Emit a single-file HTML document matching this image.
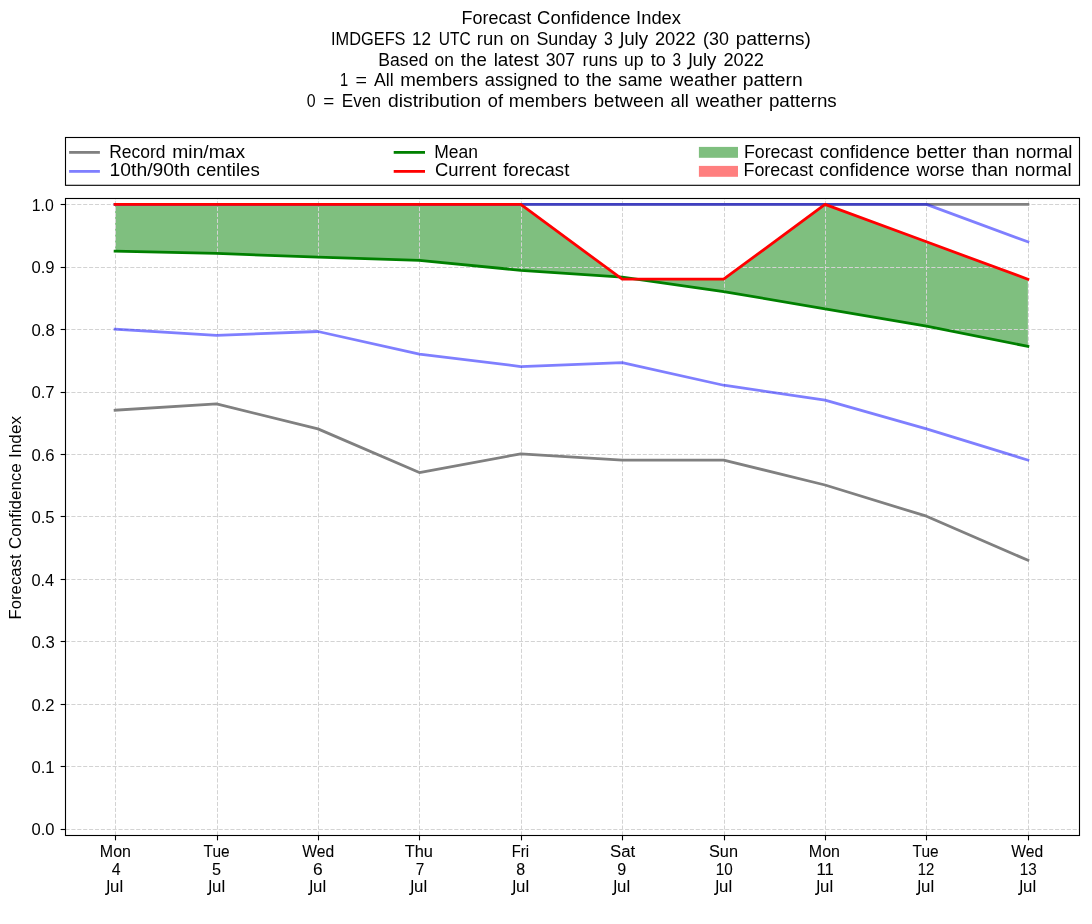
<!DOCTYPE html>
<html lang="en"><head><meta charset="utf-8"><title>Forecast Confidence Index</title>
<style>html,body{margin:0;padding:0;background:#fff;}body{width:1092px;height:924px;overflow:hidden;font-family:"Liberation Sans", sans-serif;}svg{display:block;}text{font-family:"Liberation Sans", sans-serif;fill:#000;}</style></head><body>
<svg width="1092" height="924" viewBox="0 0 1092 924">
<rect x="0" y="0" width="1092" height="924" fill="#ffffff"/>
<g id="fills">
<polygon points="115.10,204.40 216.52,204.40 317.94,204.40 419.36,204.40 520.78,204.40 619.13,276.97 520.78,270.31 419.36,260.31 317.94,257.19 216.52,253.44 115.10,251.25" fill="#008000" fill-opacity="0.5"/>
<polygon points="636.70,279.23 723.62,279.23 825.04,204.40 926.46,241.82 1027.88,279.23 1027.88,346.39 926.46,326.22 825.04,308.91 723.62,291.55" fill="#008000" fill-opacity="0.5"/>
<polygon points="619.13,276.97 622.20,277.18 636.70,279.23 622.20,279.23" fill="#ff0000" fill-opacity="0.5"/>
</g>
<g id="grid" stroke="#d3d3d3" stroke-width="1" stroke-dasharray="4.11 1.78" fill="none">
<line x1="115.5" y1="835.5" x2="115.5" y2="198.5"/>
<line x1="217.5" y1="835.5" x2="217.5" y2="198.5"/>
<line x1="318.5" y1="835.5" x2="318.5" y2="198.5"/>
<line x1="419.5" y1="835.5" x2="419.5" y2="198.5"/>
<line x1="521.5" y1="835.5" x2="521.5" y2="198.5"/>
<line x1="622.5" y1="835.5" x2="622.5" y2="198.5"/>
<line x1="724.5" y1="835.5" x2="724.5" y2="198.5"/>
<line x1="825.5" y1="835.5" x2="825.5" y2="198.5"/>
<line x1="926.5" y1="835.5" x2="926.5" y2="198.5"/>
<line x1="1028.5" y1="835.5" x2="1028.5" y2="198.5"/>
<line x1="65.5" y1="829.5" x2="1079.5" y2="829.5"/>
<line x1="65.5" y1="766.5" x2="1079.5" y2="766.5"/>
<line x1="65.5" y1="704.5" x2="1079.5" y2="704.5"/>
<line x1="65.5" y1="641.5" x2="1079.5" y2="641.5"/>
<line x1="65.5" y1="579.5" x2="1079.5" y2="579.5"/>
<line x1="65.5" y1="516.5" x2="1079.5" y2="516.5"/>
<line x1="65.5" y1="454.5" x2="1079.5" y2="454.5"/>
<line x1="65.5" y1="392.5" x2="1079.5" y2="392.5"/>
<line x1="65.5" y1="329.5" x2="1079.5" y2="329.5"/>
<line x1="65.5" y1="267.5" x2="1079.5" y2="267.5"/>
<line x1="65.5" y1="204.5" x2="1079.5" y2="204.5"/>
</g>
<g id="series">
<polyline points="115.10,204.40 216.52,204.40 317.94,204.40 419.36,204.40 520.78,204.40 622.20,204.40 723.62,204.40 825.04,204.40 926.46,204.40 1027.88,204.40" fill="none" stroke="#808080" stroke-opacity="1.0" stroke-width="2.78" stroke-linecap="square" stroke-linejoin="round" />
<polyline points="115.10,410.19 216.52,403.95 317.94,428.90 419.36,472.55 520.78,453.84 622.20,460.08 723.62,460.08 825.04,485.02 926.46,516.20 1027.88,560.29" fill="none" stroke="#808080" stroke-opacity="1.0" stroke-width="2.78" stroke-linecap="square" stroke-linejoin="round" />
<polyline points="115.10,204.40 216.52,204.40 317.94,204.40 419.36,204.40 520.78,204.40 622.20,204.40 723.62,204.40 825.04,204.40 926.46,204.40 1027.88,241.82" fill="none" stroke="#0000ff" stroke-opacity="0.5" stroke-width="2.78" stroke-linecap="square" stroke-linejoin="round" />
<polyline points="115.10,329.12 216.52,335.36 317.94,331.49 419.36,354.06 520.78,366.54 622.20,362.73 723.62,385.24 825.04,400.21 926.46,428.90 1027.88,460.08" fill="none" stroke="#0000ff" stroke-opacity="0.5" stroke-width="2.78" stroke-linecap="square" stroke-linejoin="round" />
<polyline points="115.10,251.25 216.52,253.44 317.94,257.19 419.36,260.31 520.78,270.31 622.20,277.18 723.62,291.55 825.04,308.91 926.46,326.22 1027.88,346.39" fill="none" stroke="#008000" stroke-opacity="1.0" stroke-width="2.78" stroke-linecap="square" stroke-linejoin="round" />
<polyline points="115.10,204.40 216.52,204.40 317.94,204.40 419.36,204.40 520.78,204.40 622.20,279.23 723.62,279.23 825.04,204.40 926.46,241.82 1027.88,279.23" fill="none" stroke="#ff0000" stroke-opacity="1.0" stroke-width="2.78" stroke-linecap="square" stroke-linejoin="round" />
</g>
<g id="axes" stroke="#000" stroke-width="1.11" fill="none">
<rect x="65.5" y="198.5" width="1014.0" height="637.0" stroke-linejoin="miter"/>
<line x1="115.5" y1="835.5" x2="115.5" y2="840.36"/>
<line x1="217.5" y1="835.5" x2="217.5" y2="840.36"/>
<line x1="318.5" y1="835.5" x2="318.5" y2="840.36"/>
<line x1="419.5" y1="835.5" x2="419.5" y2="840.36"/>
<line x1="521.5" y1="835.5" x2="521.5" y2="840.36"/>
<line x1="622.5" y1="835.5" x2="622.5" y2="840.36"/>
<line x1="724.5" y1="835.5" x2="724.5" y2="840.36"/>
<line x1="825.5" y1="835.5" x2="825.5" y2="840.36"/>
<line x1="926.5" y1="835.5" x2="926.5" y2="840.36"/>
<line x1="1028.5" y1="835.5" x2="1028.5" y2="840.36"/>
<line x1="65.5" y1="829.5" x2="60.64" y2="829.5"/>
<line x1="65.5" y1="766.5" x2="60.64" y2="766.5"/>
<line x1="65.5" y1="704.5" x2="60.64" y2="704.5"/>
<line x1="65.5" y1="641.5" x2="60.64" y2="641.5"/>
<line x1="65.5" y1="579.5" x2="60.64" y2="579.5"/>
<line x1="65.5" y1="516.5" x2="60.64" y2="516.5"/>
<line x1="65.5" y1="454.5" x2="60.64" y2="454.5"/>
<line x1="65.5" y1="392.5" x2="60.64" y2="392.5"/>
<line x1="65.5" y1="329.5" x2="60.64" y2="329.5"/>
<line x1="65.5" y1="267.5" x2="60.64" y2="267.5"/>
<line x1="65.5" y1="204.5" x2="60.64" y2="204.5"/>
</g>
<g id="legend">
<rect x="65.5" y="137.5" width="1014" height="47.8" fill="#fff" stroke="#000" stroke-width="1.11"/>
<line x1="69.1" y1="152.4" x2="99.9" y2="152.4" stroke="#808080" stroke-opacity="1.0" stroke-width="2.78"/>
<line x1="69.1" y1="171.4" x2="99.9" y2="171.4" stroke="#0000ff" stroke-opacity="0.5" stroke-width="2.78"/>
<line x1="393.7" y1="152.4" x2="425.0" y2="152.4" stroke="#008000" stroke-opacity="1.0" stroke-width="2.78"/>
<line x1="393.7" y1="171.4" x2="425.0" y2="171.4" stroke="#ff0000" stroke-opacity="1.0" stroke-width="2.78"/>
<rect x="698.9" y="146.9" width="39.1" height="10.9" fill="#008000" fill-opacity="0.5"/>
<rect x="698.9" y="165.9" width="39.1" height="10.9" fill="#ff0000" fill-opacity="0.5"/>
</g>
<g id="labels" style="opacity:0.999">
<text id="t0_0" x="461.50" y="24.00" font-size="17.50" textLength="69.77" lengthAdjust="spacingAndGlyphs">Forecast</text>
<text id="t0_1" x="537.10" y="24.00" font-size="17.50" textLength="93.31" lengthAdjust="spacingAndGlyphs">Confidence</text>
<text id="t0_2" x="636.13" y="24.00" font-size="17.50" textLength="44.86" lengthAdjust="spacingAndGlyphs">Index</text>
<text id="t1_0" x="331.06" y="45.00" font-size="17.50" textLength="74.49" lengthAdjust="spacingAndGlyphs">IMDGEFS</text>
<text id="t1_1" x="412.05" y="45.00" font-size="17.50" textLength="19.07" lengthAdjust="spacingAndGlyphs">12</text>
<text id="t1_2" x="438.79" y="45.00" font-size="17.50" textLength="31.89" lengthAdjust="spacingAndGlyphs">UTC</text>
<text id="t1_3" x="476.80" y="45.00" font-size="17.50" textLength="26.65" lengthAdjust="spacingAndGlyphs">run</text>
<text id="t1_4" x="510.00" y="45.00" font-size="17.50" textLength="19.49" lengthAdjust="spacingAndGlyphs">on</text>
<text id="t1_5" x="536.41" y="45.00" font-size="17.50" textLength="60.66" lengthAdjust="spacingAndGlyphs">Sunday</text>
<text id="t1_6" x="603.91" y="45.00" font-size="17.50" textLength="8.80" lengthAdjust="spacingAndGlyphs">3</text>
<path id="t1_7" d="M622.09 31.92 L622.09 44.67 C622.09 46.67 620.84 47.52 618.59 47.52" fill="none" stroke="#000" stroke-width="1.63"/>
<text id="t1_8" x="624.17" y="45.00" font-size="17.50" textLength="24.00" lengthAdjust="spacingAndGlyphs">uly</text>
<text id="t1_9" x="654.92" y="45.00" font-size="17.50" textLength="40.81" lengthAdjust="spacingAndGlyphs">2022</text>
<text id="t1_10" x="703.04" y="45.00" font-size="17.50" textLength="25.95" lengthAdjust="spacingAndGlyphs">(30</text>
<text id="t1_11" x="735.87" y="45.00" font-size="17.50" textLength="75.01" lengthAdjust="spacingAndGlyphs">patterns)</text>
<text id="t2_0" x="378.37" y="66.00" font-size="17.50" textLength="49.83" lengthAdjust="spacingAndGlyphs">Based</text>
<text id="t2_1" x="434.60" y="66.00" font-size="17.50" textLength="19.40" lengthAdjust="spacingAndGlyphs">on</text>
<text id="t2_2" x="460.89" y="66.00" font-size="17.50" textLength="25.89" lengthAdjust="spacingAndGlyphs">the</text>
<text id="t2_3" x="493.67" y="66.00" font-size="17.50" textLength="45.10" lengthAdjust="spacingAndGlyphs">latest</text>
<text id="t2_4" x="545.65" y="66.00" font-size="17.50" textLength="29.34" lengthAdjust="spacingAndGlyphs">307</text>
<text id="t2_5" x="582.40" y="66.00" font-size="17.50" textLength="35.05" lengthAdjust="spacingAndGlyphs">runs</text>
<text id="t2_6" x="624.03" y="66.00" font-size="17.50" textLength="19.48" lengthAdjust="spacingAndGlyphs">up</text>
<text id="t2_7" x="650.69" y="66.00" font-size="17.50" textLength="15.00" lengthAdjust="spacingAndGlyphs">to</text>
<text id="t2_8" x="672.61" y="66.00" font-size="17.50" textLength="8.55" lengthAdjust="spacingAndGlyphs">3</text>
<path id="t2_9" d="M690.57 52.92 L690.57 65.67 C690.57 67.67 689.32 68.52 687.07 68.52" fill="none" stroke="#000" stroke-width="1.63"/>
<text id="t2_10" x="692.55" y="66.00" font-size="17.50" textLength="23.93" lengthAdjust="spacingAndGlyphs">uly</text>
<text id="t2_11" x="723.45" y="66.00" font-size="17.50" textLength="40.53" lengthAdjust="spacingAndGlyphs">2022</text>
<text id="t3_0" x="339.92" y="86.00" font-size="17.50" textLength="8.13" lengthAdjust="spacingAndGlyphs">1</text>
<text id="t3_1" x="355.59" y="86.00" font-size="17.50" textLength="11.49" lengthAdjust="spacingAndGlyphs">=</text>
<text id="t3_2" x="373.94" y="86.00" font-size="17.50" textLength="19.73" lengthAdjust="spacingAndGlyphs">All</text>
<text id="t3_3" x="400.18" y="86.00" font-size="17.50" textLength="78.05" lengthAdjust="spacingAndGlyphs">members</text>
<text id="t3_4" x="484.87" y="86.00" font-size="17.50" textLength="72.80" lengthAdjust="spacingAndGlyphs">assigned</text>
<text id="t3_5" x="564.00" y="86.00" font-size="17.50" textLength="15.55" lengthAdjust="spacingAndGlyphs">to</text>
<text id="t3_6" x="586.03" y="86.00" font-size="17.50" textLength="25.87" lengthAdjust="spacingAndGlyphs">the</text>
<text id="t3_7" x="618.39" y="86.00" font-size="17.50" textLength="44.18" lengthAdjust="spacingAndGlyphs">same</text>
<text id="t3_8" x="669.97" y="86.00" font-size="17.50" textLength="66.74" lengthAdjust="spacingAndGlyphs">weather</text>
<text id="t3_9" x="742.72" y="86.00" font-size="17.50" textLength="60.02" lengthAdjust="spacingAndGlyphs">pattern</text>
<text id="t4_0" x="306.79" y="107.00" font-size="17.50" textLength="8.85" lengthAdjust="spacingAndGlyphs">0</text>
<text id="t4_1" x="323.27" y="107.00" font-size="17.50" textLength="11.00" lengthAdjust="spacingAndGlyphs">=</text>
<text id="t4_2" x="341.86" y="107.00" font-size="17.50" textLength="39.19" lengthAdjust="spacingAndGlyphs">Even</text>
<text id="t4_3" x="388.13" y="107.00" font-size="17.50" textLength="93.16" lengthAdjust="spacingAndGlyphs">distribution</text>
<text id="t4_4" x="487.83" y="107.00" font-size="17.50" textLength="15.23" lengthAdjust="spacingAndGlyphs">of</text>
<text id="t4_5" x="508.86" y="107.00" font-size="17.50" textLength="78.01" lengthAdjust="spacingAndGlyphs">members</text>
<text id="t4_6" x="593.71" y="107.00" font-size="17.50" textLength="70.28" lengthAdjust="spacingAndGlyphs">between</text>
<text id="t4_7" x="670.62" y="107.00" font-size="17.50" textLength="18.15" lengthAdjust="spacingAndGlyphs">all</text>
<text id="t4_8" x="695.67" y="107.00" font-size="17.50" textLength="66.89" lengthAdjust="spacingAndGlyphs">weather</text>
<text id="t4_9" x="768.93" y="107.00" font-size="17.50" textLength="67.82" lengthAdjust="spacingAndGlyphs">patterns</text>
<text id="l0_0" x="109.17" y="158.00" font-size="17.50" textLength="56.31" lengthAdjust="spacingAndGlyphs">Record</text>
<text id="l0_1" x="172.35" y="158.00" font-size="17.50" textLength="72.67" lengthAdjust="spacingAndGlyphs">min/max</text>
<text id="l1_0" x="109.62" y="176.00" font-size="17.50" textLength="80.53" lengthAdjust="spacingAndGlyphs">10th/90th</text>
<text id="l1_1" x="196.58" y="176.00" font-size="17.50" textLength="63.14" lengthAdjust="spacingAndGlyphs">centiles</text>
<text id="l2" x="434.19" y="158.00" font-size="17.50" textLength="43.70" lengthAdjust="spacingAndGlyphs">Mean</text>
<text id="l3_0" x="434.93" y="176.00" font-size="17.50" textLength="61.50" lengthAdjust="spacingAndGlyphs">Current</text>
<text id="l3_1" x="503.15" y="176.00" font-size="17.50" textLength="66.21" lengthAdjust="spacingAndGlyphs">forecast</text>
<text id="l4_0" x="743.93" y="158.00" font-size="17.50" textLength="69.14" lengthAdjust="spacingAndGlyphs">Forecast</text>
<text id="l4_1" x="819.78" y="158.00" font-size="17.50" textLength="90.03" lengthAdjust="spacingAndGlyphs">confidence</text>
<text id="l4_2" x="915.93" y="158.00" font-size="17.50" textLength="50.38" lengthAdjust="spacingAndGlyphs">better</text>
<text id="l4_3" x="972.70" y="158.00" font-size="17.50" textLength="36.33" lengthAdjust="spacingAndGlyphs">than</text>
<text id="l4_4" x="1015.57" y="158.00" font-size="17.50" textLength="56.88" lengthAdjust="spacingAndGlyphs">normal</text>
<text id="l5_0" x="743.46" y="176.00" font-size="17.50" textLength="69.71" lengthAdjust="spacingAndGlyphs">Forecast</text>
<text id="l5_1" x="819.32" y="176.00" font-size="17.50" textLength="90.59" lengthAdjust="spacingAndGlyphs">confidence</text>
<text id="l5_2" x="916.47" y="176.00" font-size="17.50" textLength="48.11" lengthAdjust="spacingAndGlyphs">worse</text>
<text id="l5_3" x="971.80" y="176.00" font-size="17.50" textLength="36.36" lengthAdjust="spacingAndGlyphs">than</text>
<text id="l5_4" x="1014.80" y="176.00" font-size="17.50" textLength="56.74" lengthAdjust="spacingAndGlyphs">normal</text>
<text id="y0" x="31.48" y="835.00" font-size="16.20" textLength="23.02" lengthAdjust="spacingAndGlyphs">0.0</text>
<text id="y1" x="31.42" y="773.00" font-size="16.20" textLength="23.12" lengthAdjust="spacingAndGlyphs">0.1</text>
<text id="y2" x="31.45" y="711.00" font-size="16.20" textLength="23.18" lengthAdjust="spacingAndGlyphs">0.2</text>
<text id="y3" x="31.45" y="648.00" font-size="16.20" textLength="23.25" lengthAdjust="spacingAndGlyphs">0.3</text>
<text id="y4" x="31.48" y="586.00" font-size="16.20" textLength="22.76" lengthAdjust="spacingAndGlyphs">0.4</text>
<text id="y5" x="31.45" y="523.00" font-size="16.20" textLength="23.22" lengthAdjust="spacingAndGlyphs">0.5</text>
<text id="y6" x="31.45" y="461.00" font-size="16.20" textLength="23.22" lengthAdjust="spacingAndGlyphs">0.6</text>
<text id="y7" x="31.45" y="398.00" font-size="16.20" textLength="23.18" lengthAdjust="spacingAndGlyphs">0.7</text>
<text id="y8" x="31.45" y="336.00" font-size="16.20" textLength="23.25" lengthAdjust="spacingAndGlyphs">0.8</text>
<text id="y9" x="31.42" y="273.00" font-size="16.20" textLength="23.12" lengthAdjust="spacingAndGlyphs">0.9</text>
<text id="y10" x="31.75" y="211.00" font-size="16.20" textLength="22.03" lengthAdjust="spacingAndGlyphs">1.0</text>
<text id="xd0" x="99.84" y="857.00" font-size="16.00" textLength="31.08" lengthAdjust="spacingAndGlyphs" stroke="#000" stroke-width="0.08">Mon</text>
<text id="xn0" x="111.71" y="875.00" font-size="16.20" textLength="8.87" lengthAdjust="spacingAndGlyphs" stroke="#000" stroke-width="0.08">4</text>
<path id="xm0_0" d="M108.30 880.01 L108.30 891.69 C108.30 893.53 107.15 894.31 105.09 894.31" fill="none" stroke="#000" stroke-width="1.50"/>
<text id="xm0_1" x="110.09" y="892.00" font-size="16.00" textLength="13.04" lengthAdjust="spacingAndGlyphs" stroke="#000" stroke-width="0.08">ul</text>
<text id="xd1" x="203.60" y="857.00" font-size="16.00" textLength="26.00" lengthAdjust="spacingAndGlyphs" stroke="#000" stroke-width="0.08">Tue</text>
<text id="xn1" x="211.98" y="875.00" font-size="16.20" textLength="9.02" lengthAdjust="spacingAndGlyphs" stroke="#000" stroke-width="0.08">5</text>
<path id="xm1_0" d="M210.30 880.01 L210.30 891.69 C210.30 893.53 209.15 894.31 207.09 894.31" fill="none" stroke="#000" stroke-width="1.50"/>
<text id="xm1_1" x="212.09" y="892.00" font-size="16.00" textLength="13.04" lengthAdjust="spacingAndGlyphs" stroke="#000" stroke-width="0.08">ul</text>
<text id="xd2" x="302.27" y="857.00" font-size="16.00" textLength="31.87" lengthAdjust="spacingAndGlyphs" stroke="#000" stroke-width="0.08">Wed</text>
<text id="xn2" x="313.11" y="875.00" font-size="16.20" textLength="9.70" lengthAdjust="spacingAndGlyphs" stroke="#000" stroke-width="0.08">6</text>
<path id="xm2_0" d="M311.30 880.01 L311.30 891.69 C311.30 893.53 310.15 894.31 308.09 894.31" fill="none" stroke="#000" stroke-width="1.50"/>
<text id="xm2_1" x="313.09" y="892.00" font-size="16.00" textLength="13.04" lengthAdjust="spacingAndGlyphs" stroke="#000" stroke-width="0.08">ul</text>
<text id="xd3" x="404.75" y="857.00" font-size="16.00" textLength="28.24" lengthAdjust="spacingAndGlyphs" stroke="#000" stroke-width="0.08">Thu</text>
<text id="xn3" x="415.69" y="875.00" font-size="16.20" textLength="8.55" lengthAdjust="spacingAndGlyphs" stroke="#000" stroke-width="0.08">7</text>
<path id="xm3_0" d="M412.30 880.01 L412.30 891.69 C412.30 893.53 411.15 894.31 409.09 894.31" fill="none" stroke="#000" stroke-width="1.50"/>
<text id="xm3_1" x="414.09" y="892.00" font-size="16.00" textLength="13.04" lengthAdjust="spacingAndGlyphs" stroke="#000" stroke-width="0.08">ul</text>
<text id="xd4" x="511.77" y="857.00" font-size="16.00" textLength="17.22" lengthAdjust="spacingAndGlyphs" stroke="#000" stroke-width="0.08">Fri</text>
<text id="xn4" x="516.37" y="875.00" font-size="16.20" textLength="8.91" lengthAdjust="spacingAndGlyphs" stroke="#000" stroke-width="0.08">8</text>
<path id="xm4_0" d="M514.30 880.01 L514.30 891.69 C514.30 893.53 513.15 894.31 511.09 894.31" fill="none" stroke="#000" stroke-width="1.50"/>
<text id="xm4_1" x="516.09" y="892.00" font-size="16.00" textLength="13.04" lengthAdjust="spacingAndGlyphs" stroke="#000" stroke-width="0.08">ul</text>
<text id="xd5" x="610.08" y="857.00" font-size="16.00" textLength="25.16" lengthAdjust="spacingAndGlyphs" stroke="#000" stroke-width="0.08">Sat</text>
<text id="xn5" x="617.30" y="875.00" font-size="16.20" textLength="8.99" lengthAdjust="spacingAndGlyphs" stroke="#000" stroke-width="0.08">9</text>
<path id="xm5_0" d="M615.30 880.01 L615.30 891.69 C615.30 893.53 614.15 894.31 612.09 894.31" fill="none" stroke="#000" stroke-width="1.50"/>
<text id="xm5_1" x="617.09" y="892.00" font-size="16.00" textLength="13.04" lengthAdjust="spacingAndGlyphs" stroke="#000" stroke-width="0.08">ul</text>
<text id="xd6" x="709.01" y="857.00" font-size="16.00" textLength="29.01" lengthAdjust="spacingAndGlyphs" stroke="#000" stroke-width="0.08">Sun</text>
<text id="xn6" x="715.85" y="875.00" font-size="16.20" textLength="16.92" lengthAdjust="spacingAndGlyphs" stroke="#000" stroke-width="0.08">10</text>
<path id="xm6_0" d="M717.30 880.01 L717.30 891.69 C717.30 893.53 716.15 894.31 714.09 894.31" fill="none" stroke="#000" stroke-width="1.50"/>
<text id="xm6_1" x="719.09" y="892.00" font-size="16.00" textLength="13.04" lengthAdjust="spacingAndGlyphs" stroke="#000" stroke-width="0.08">ul</text>
<text id="xd7" x="808.84" y="857.00" font-size="16.00" textLength="31.08" lengthAdjust="spacingAndGlyphs" stroke="#000" stroke-width="0.08">Mon</text>
<text id="xn7" x="816.42" y="875.00" font-size="16.20" textLength="17.34" lengthAdjust="spacingAndGlyphs" stroke="#000" stroke-width="0.08">11</text>
<path id="xm7_0" d="M818.30 880.01 L818.30 891.69 C818.30 893.53 817.15 894.31 815.09 894.31" fill="none" stroke="#000" stroke-width="1.50"/>
<text id="xm7_1" x="820.09" y="892.00" font-size="16.00" textLength="13.04" lengthAdjust="spacingAndGlyphs" stroke="#000" stroke-width="0.08">ul</text>
<text id="xd8" x="912.60" y="857.00" font-size="16.00" textLength="26.00" lengthAdjust="spacingAndGlyphs" stroke="#000" stroke-width="0.08">Tue</text>
<text id="xn8" x="917.74" y="875.00" font-size="16.20" textLength="16.58" lengthAdjust="spacingAndGlyphs" stroke="#000" stroke-width="0.08">12</text>
<path id="xm8_0" d="M919.30 880.01 L919.30 891.69 C919.30 893.53 918.15 894.31 916.09 894.31" fill="none" stroke="#000" stroke-width="1.50"/>
<text id="xm8_1" x="921.09" y="892.00" font-size="16.00" textLength="13.04" lengthAdjust="spacingAndGlyphs" stroke="#000" stroke-width="0.08">ul</text>
<text id="xd9" x="1011.27" y="857.00" font-size="16.00" textLength="31.87" lengthAdjust="spacingAndGlyphs" stroke="#000" stroke-width="0.08">Wed</text>
<text id="xn9" x="1019.73" y="875.00" font-size="16.20" textLength="16.96" lengthAdjust="spacingAndGlyphs" stroke="#000" stroke-width="0.08">13</text>
<path id="xm9_0" d="M1021.30 880.01 L1021.30 891.69 C1021.30 893.53 1020.15 894.31 1018.09 894.31" fill="none" stroke="#000" stroke-width="1.50"/>
<text id="xm9_1" x="1023.09" y="892.00" font-size="16.00" textLength="13.04" lengthAdjust="spacingAndGlyphs" stroke="#000" stroke-width="0.08">ul</text>
<text id="yl_0" transform="translate(21.20,619.45) rotate(-90)" font-size="16.00" textLength="65.00" lengthAdjust="spacingAndGlyphs">Forecast</text>
<text id="yl_1" transform="translate(21.20,548.99) rotate(-90)" font-size="16.00" textLength="85.77" lengthAdjust="spacingAndGlyphs">Confidence</text>
<text id="yl_2" transform="translate(21.20,457.90) rotate(-90)" font-size="16.00" textLength="41.84" lengthAdjust="spacingAndGlyphs">Index</text>
</g>
</svg></body></html>
